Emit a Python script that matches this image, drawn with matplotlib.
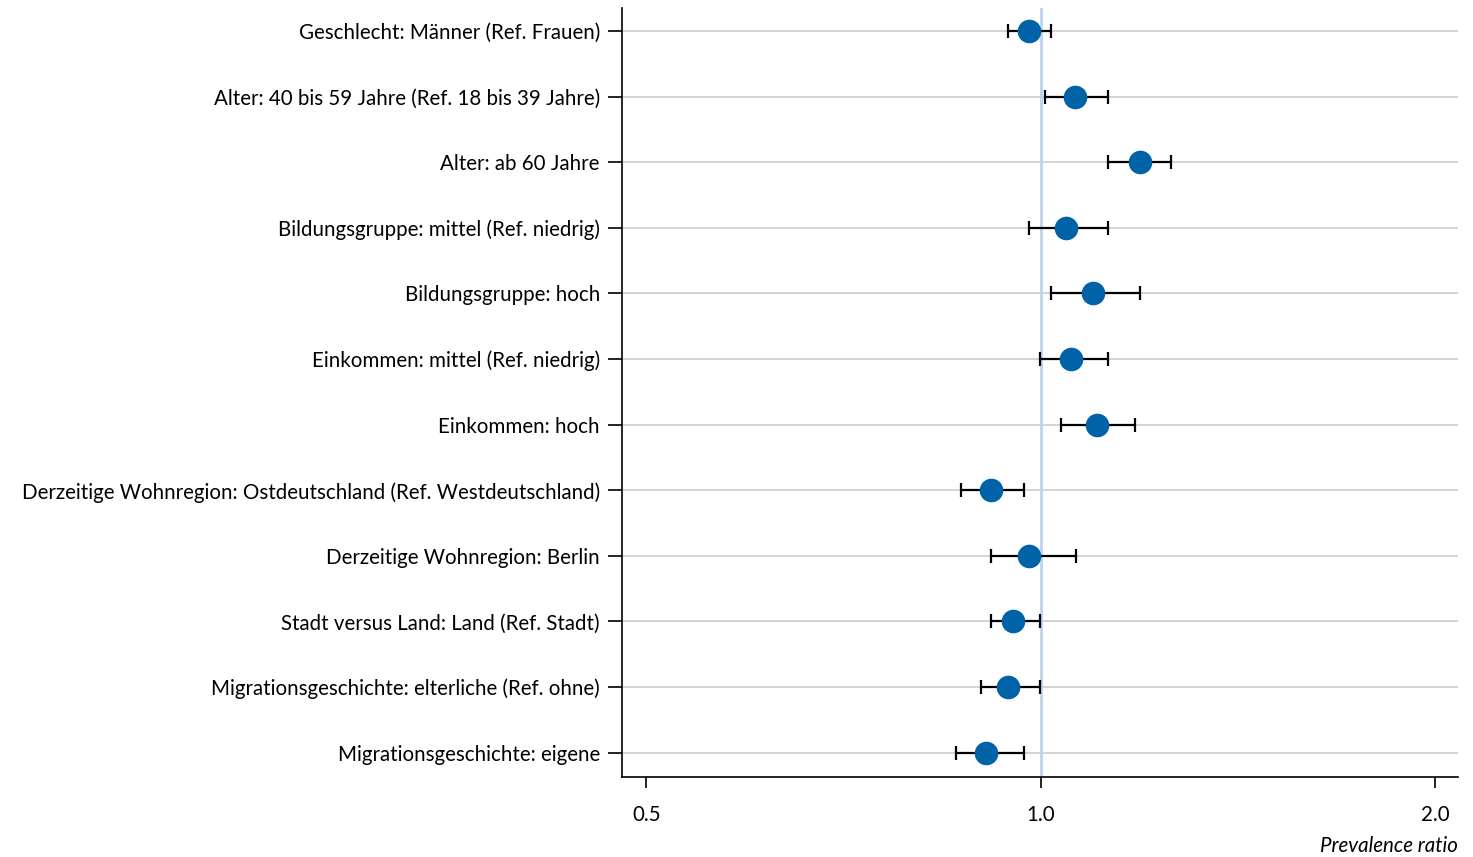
import numpy as np
import matplotlib.pyplot as plt
from matplotlib.ticker import FixedLocator, NullLocator

plt.rcParams['font.family'] = ['Lato', 'DejaVu Sans']

labels = [
    "Geschlecht: Männer (Ref. Frauen)",
    "Alter: 40 bis 59 Jahre (Ref. 18 bis 39 Jahre)",
    "Alter: ab 60 Jahre",
    "Bildungsgruppe: mittel (Ref. niedrig)",
    "Bildungsgruppe: hoch",
    "Einkommen: mittel (Ref. niedrig)",
    "Einkommen: hoch",
    "Derzeitige Wohnregion: Ostdeutschland (Ref. Westdeutschland)",
    "Derzeitige Wohnregion: Berlin",
    "Stadt versus Land: Land (Ref. Stadt)",
    "Migrationsgeschichte: elterliche (Ref. ohne)",
    "Migrationsgeschichte: eigene",
]
pr = [0.979, 1.063, 1.190, 1.045, 1.096, 1.054, 1.105, 0.917, 0.979, 0.952, 0.944, 0.909]
ci_low = [0.945, 1.007, 1.125, 0.979, 1.018, 0.998, 1.036, 0.869, 0.917, 0.917, 0.901, 0.861]
ci_high = [1.018, 1.125, 1.257, 1.125, 1.190, 1.125, 1.180, 0.971, 1.065, 0.998, 0.998, 0.971]
xticks = [0.5, 1.0, 2.0]

pr = np.array(pr)
err = np.vstack([pr - np.array(ci_low), np.array(ci_high) - pr])
y = np.arange(len(labels))

fig = plt.figure(figsize=(14.73, 8.57), dpi=100)
ax = fig.add_axes([0.4223, 0.0934, 0.5675, 0.8973])

ax.set_xscale('log', base=2)
ax.set_xlim(0.479, 2.083)
ax.set_ylim(len(labels) - 1 + 0.37, -0.35)

for yy in y:
    ax.axhline(yy, color='#cccccc', lw=1.2, zorder=0)
ax.axvline(1.0, color='#bfd3ee', lw=2, zorder=1)

ax.errorbar(pr, y, xerr=err, fmt='none', ecolor='black', elinewidth=1.6,
            capsize=4.7, capthick=1.6, zorder=2)
ax.plot(pr, y, 'o', color='#0063a8', markersize=17, markeredgewidth=0, zorder=3)

ax.set_yticks(y)
ax.set_yticklabels(labels, fontsize=14.8)
ax.xaxis.set_major_locator(FixedLocator(xticks))
ax.xaxis.set_minor_locator(NullLocator())
ax.set_xticklabels(["0.5", "1.0", "2.0"], fontsize=14.8)
ax.tick_params(axis='y', length=10, width=1.2, pad=6)
ax.tick_params(axis='x', length=8, width=1.2, pad=12)

for s in ['top', 'right']:
    ax.spines[s].set_visible(False)
for s in ['left', 'bottom']:
    ax.spines[s].set_linewidth(1.2)

ax.set_xlabel("Prevalence ratio", fontsize=14.8, style='italic', loc='right', labelpad=8)

fig.savefig('out.png', dpi=100)
